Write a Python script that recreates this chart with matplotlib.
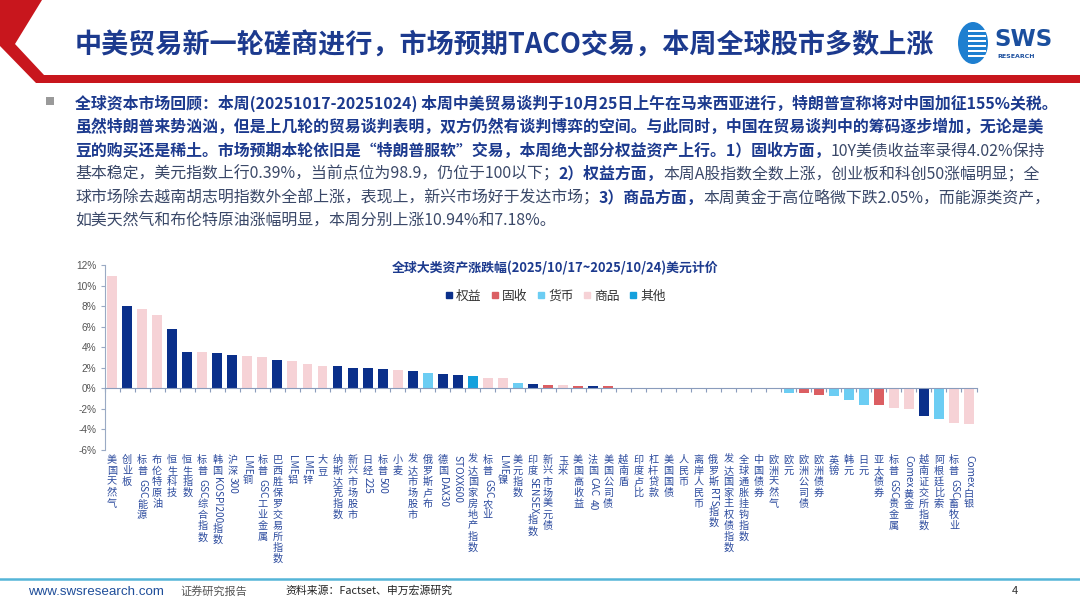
import re
import matplotlib
matplotlib.use("Agg")
import matplotlib.pyplot as plt
from matplotlib.patches import Polygon, Rectangle, Ellipse
from matplotlib.lines import Line2D
from matplotlib.textpath import TextPath
from matplotlib.font_manager import FontProperties
import matplotlib.transforms as mtransforms

plt.rcParams['font.family'] = ['Noto Sans CJK SC', 'DejaVu Sans']

# ---- data -------------------------------------------------------------
names = ['美国天然气', '创业板', '标普 GSC能源', '布伦特原油', '恒生科技', '恒生指数',
         '标普 GSC综合指数', '韩国KOSPI200指数', '沪深300', 'LME铜', '标普 GSC工业金属',
         '巴西胜保罗交易所指数', 'LME铝', 'LME锌', '大豆', '纳斯达克指数', '新兴市场股市',
         '日经225', '标普500', '小麦', '发达市场股市', '俄罗斯卢布', '德国DAX30',
         'STOXX600', '发达国家房地产指数', '标普 GSC农业', 'LME镍', '美元指数',
         '印度SENSEX指数', '新兴市场美元债', '玉米', '美国高收益', '法国CAC 40',
         '美国公司债', '越南盾', '印度卢比', '杠杆贷款', '美国国债', '人民币', '离岸人民币',
         '俄罗斯RTS指数', '发达国家主权债指数', '全球通胀挂钩指数', '中国债券', '欧洲天然气',
         '欧元', '欧洲公司债', '欧洲债券', '英镑', '韩元', '日元', '亚太债券',
         '标普 GSC贵金属', 'Comex黄金', '越南证交所指数', '阿根廷比索', '标普 GSC畜牧业',
         'Comex白银']
values = [10.94, 7.98, 7.72, 7.18, 5.76, 3.55, 3.54, 3.45, 3.22, 3.12, 3.05,
          2.73, 2.70, 2.37, 2.15, 2.15, 1.98, 1.98, 1.90, 1.80, 1.70, 1.50, 1.37,
          1.27, 1.21, 1.00, 0.98, 0.50, 0.42, 0.36, 0.30, 0.25, 0.25, 0.20, 0.05,
          0.05, 0.08, 0.02, 0.02, 0.01, -0.01, -0.08, -0.08, -0.08, -0.10, -0.43,
          -0.49, -0.65, -0.72, -1.14, -1.60, -1.63, -1.95, -2.05, -2.70, -2.96,
          -3.40, -3.50]
kinds = ['商品', '权益', '商品', '商品', '权益', '权益', '商品', '权益', '权益', '商品', '商品',
         '权益', '商品', '商品', '商品', '权益', '权益', '权益', '权益', '商品', '权益', '货币',
         '权益', '权益', '其他', '商品', '商品', '货币', '权益', '固收', '商品', '固收', '权益',
         '固收', '货币', '货币', '固收', '固收', '货币', '货币', '权益', '固收', '固收', '固收',
         '商品', '货币', '固收', '固收', '货币', '货币', '货币', '固收', '商品', '商品', '权益',
         '货币', '商品', '商品']
legend_order = ['权益', '固收', '货币', '商品', '其他']
kind_colors = {'权益': '#0A2F8A', '固收': '#DB5E62', '货币': '#6CCDF3',
               '商品': '#F6D2D6', '其他': '#14A0DD'}
yticks = list(range(-6, 13, 2))

title = '中美贸易新一轮磋商进行，市场预期TACO交易，本周全球股市多数上涨'
chart_title = '全球大类资产涨跌幅(2025/10/17~2025/10/24)美元计价'

B, R = True, False
para = [
    [('全球资本市场回顾：本周(20251017-20251024) 本周中美贸易谈判于10月25日上午在马来西亚进行，特朗普宣称将对中国加征155%关税。', B)],
    [('虽然特朗普来势汹汹，但是上几轮的贸易谈判表明，双方仍然有谈判博弈的空间。与此同时，中国在贸易谈判中的筹码逐步增加，无论是美', B)],
    [('豆的购买还是稀土。市场预期本轮依旧是“特朗普服软”交易，本周绝大部分权益资产上行。1）固收方面，', B),
     ('10Y美债收益率录得4.02%保持', R)],
    [('基本稳定，美元指数上行0.39%，当前点位为98.9，仍位于100以下；', R), ('2）权益方面，', B),
     ('本周A股指数全数上涨，创业板和科创50涨幅明显；全', R)],
    [('球市场除去越南胡志明指数外全部上涨，表现上，新兴市场好于发达市场；', R), ('3）商品方面，', B),
     ('本周黄金于高位略微下跌2.05%，而能源类资产，', R)],
    [('如美天然气和布伦特原油涨幅明显，本周分别上涨10.94%和7.18%。', R)],
]

# ---- figure -----------------------------------------------------------
fig = plt.figure(figsize=(10.8, 6.08), dpi=100)
bg = fig.add_axes([0, 0, 1, 1])
bg.set_xlim(0, 1080)
bg.set_ylim(608, 0)
bg.set_axis_off()

# header shapes
bg.add_patch(Polygon([(0, 0), (42, 0), (15, 44), (44, 75), (1080, 75), (1080, 83),
                      (36, 83), (0, 46)], closed=True, color='#C8161D', lw=0))
bg.text(75, 46, title, fontsize=19.5, fontweight='bold', color='#1C3A8E',
        va='center', ha='left')

# logo
bg.add_patch(Ellipse((973, 43), 30, 42, color='#1E7FD0', lw=0))
for yy in range(30, 60, 5):
    bg.add_patch(Rectangle((968, yy), 18, 2.2, color='white', lw=0))
bg.text(994, 39, 'SWS', fontsize=16.5, fontweight='bold', color='#1B4F9E',
        family='DejaVu Sans', va='center', ha='left')
bg.text(997, 56, 'RESEARCH', fontsize=4.5, fontweight='bold', color='#1B4F9E',
        family='DejaVu Sans', va='center', ha='left')

# paragraph
renderer = fig.canvas.get_renderer()
bg.add_patch(Rectangle((46, 97), 8, 8, color='#9A9A9A', lw=0))
line_y = [103, 127, 151, 174, 198, 221]
for yy, segs in zip(line_y, para):
    x = 75
    for txt, bold in segs:
        t = bg.text(x, yy, txt, fontsize=11.45, va='center', ha='left',
                    fontweight='bold' if bold else 'normal',
                    color='#1C3A8E' if bold else '#3A4868')
        x += t.get_window_extent(renderer).width

# footer
bg.plot([0, 1080], [579, 579], color='#55B5D8', lw=1.8)
bg.text(28, 592, 'www.swsresearch.com', fontsize=9.6, color='#1F4E9A', va='center',
        family=['Liberation Sans Narrow', 'Liberation Sans', 'DejaVu Sans'])
bg.text(180, 591, '证券研究报告', fontsize=8, color='#555555', va='center')
bg.text(285, 591, '资料来源：Factset、申万宏源研究', fontsize=7.8, color='#222222', va='center')
bg.text(1012, 591, '4', fontsize=8, color='#333333', va='center')

# ---- bar chart --------------------------------------------------------
ax = fig.add_axes([104.5 / 1080, 1 - 450 / 608, 872 / 1080, 185 / 608])
ax.patch.set_alpha(0)
xs = list(range(len(values)))
ax.bar(xs, values, width=0.66, color=[kind_colors[k] for k in kinds], zorder=2)
ax.set_xlim(-0.5, len(values) - 0.5)
ax.set_ylim(-6, 12)
ax.set_yticks(yticks)
ax.set_yticklabels([f'{v}%' for v in yticks], fontsize=7.3, color='#555555',
                   family=['Liberation Sans', 'DejaVu Sans'])
ax.spines['top'].set_visible(False)
ax.spines['right'].set_visible(False)
ax.spines['left'].set_color('#9AAAC4')
ax.spines['bottom'].set_color('#8A9CBC')
ax.spines['bottom'].set_position(('data', 0))
ax.spines['bottom'].set_zorder(3)
ax.set_xticks([i - 0.5 for i in range(len(values) + 1)])
ax.set_xticklabels([])
ax.tick_params(axis='x', length=3, color='#8A9CBC', direction='out')
ax.tick_params(axis='y', length=3, color='#9AAAC4', pad=3)

ax.text(0.517, 0.985, chart_title, transform=ax.transAxes, fontsize=9.3,
        fontweight='bold', color='#1C3A8E', ha='center', va='center')

handles = [Line2D([], [], marker='s', ls='none', markersize=5,
                  color=kind_colors[k], label=k) for k in legend_order]
ax.legend(handles=handles, loc='center', bbox_to_anchor=(0.517, 0.83), ncol=5,
          frameon=False, fontsize=9.2, handletextpad=0.25, columnspacing=0.75,
          handlelength=0.6, borderaxespad=0, labelcolor='#333333')

# vertical (stacked) category labels
fs = 7.3
fp = FontProperties(family='Noto Sans CJK SC', size=fs)
trans = mtransforms.blended_transform_factory(ax.transData, ax.transAxes)
for i, name in enumerate(names):
    off = 3.5
    for run in re.findall(r'[A-Za-z0-9]+| |[^A-Za-z0-9 ]', name):
        if run == ' ':
            off += 1.5
        elif re.match(r'[A-Za-z0-9]', run):
            w = TextPath((0, 0), run, size=fs, prop=fp).get_extents().width
            ax.annotate(run, xy=(i, 0), xycoords=trans, xytext=(0, -off),
                        textcoords='offset points', rotation=-90, ha='center',
                        va='top', fontsize=fs, color='#2C4B9E',
                        annotation_clip=False)
            off += w + 1.5
        else:
            ax.annotate(run, xy=(i, 0), xycoords=trans, xytext=(0, -off),
                        textcoords='offset points', ha='center', va='top',
                        fontsize=fs, color='#2C4B9E', annotation_clip=False)
            off += fs * 1.08

fig.savefig('out.png', dpi=100)
